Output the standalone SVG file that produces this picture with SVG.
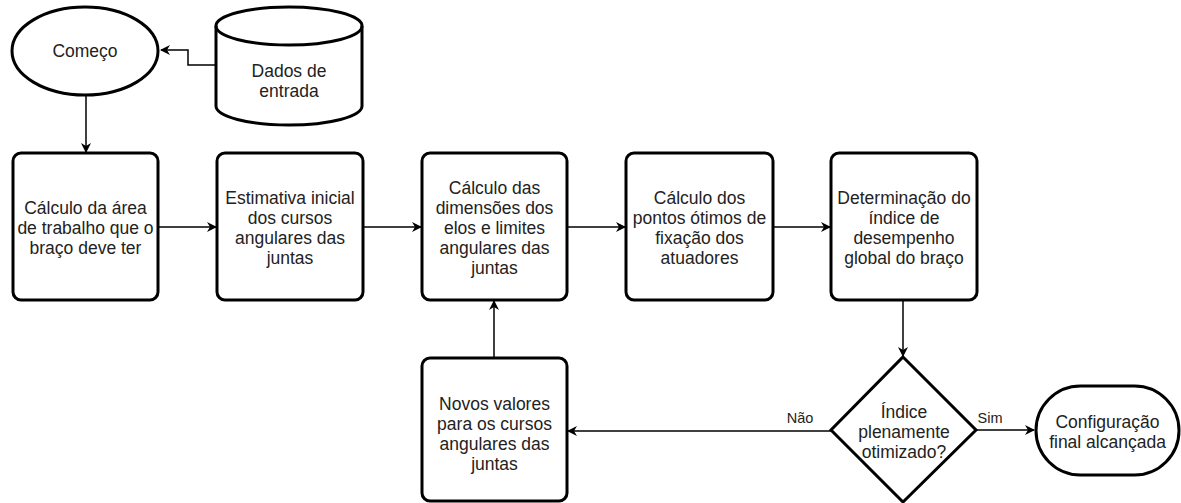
<svg xmlns="http://www.w3.org/2000/svg" width="1181" height="503" viewBox="0 0 1181 503">
<defs>
<marker id="arr" viewBox="0 0 10 10" refX="9" refY="5" markerWidth="10" markerHeight="10" markerUnits="userSpaceOnUse" orient="auto">
<path d="M0,0 L10,5 L0,10 L3,5 Z" fill="#000"/>
</marker>
</defs>
<style>
.shape{fill:#fff;stroke:#000;stroke-width:3}
.conn{fill:none;stroke:#000;stroke-width:1.5;marker-end:url(#arr)}
text{font-family:"Liberation Sans",Arial,sans-serif;font-size:17.5px;fill:#222;text-anchor:middle}
.lbl{font-size:14.5px}
</style>
<rect width="1181" height="503" fill="#fff"/>
<g id="connectors">
<path class="conn" d="M215,65 H188 V50 H161"/>
<path class="conn" d="M86,95 V152"/>
<path class="conn" d="M158,227 H216"/>
<path class="conn" d="M363,227 H421"/>
<path class="conn" d="M567,227 H625"/>
<path class="conn" d="M773,227 H830"/>
<path class="conn" d="M903,300 V356"/>
<path class="conn" d="M977,430 H1034"/>
<path class="conn" d="M831,431 H568"/>
<path class="conn" d="M494,358 V301"/>
<text class="lbl" x="990" y="423">Sim</text>
<text class="lbl" x="800" y="423">Não</text>
</g>
<g id="comeco">
<ellipse class="shape" cx="85" cy="51" rx="73" ry="44"/>
<text x="85" y="57">Começo</text>
</g>
<g id="dados">
<path class="shape" d="M216,26 A73,19 0 0 1 362,26 V106 A73,19 0 0 1 216,106 Z"/>
<path fill="none" stroke="#000" stroke-width="3" d="M216,26 A73,19 0 0 0 362,26"/>
<text x="289" y="77">Dados de</text>
<text x="289" y="97">entrada</text>
</g>
<g id="n1">
<rect class="shape" x="13" y="153" width="145" height="147" rx="8"/>
<text x="85.5" y="214">Cálculo da área</text>
<text x="85.5" y="234">de trabalho que o</text>
<text x="85.5" y="254">braço deve ter</text>
</g>
<g id="n2">
<rect class="shape" x="217" y="153" width="146" height="147" rx="8"/>
<text x="290" y="204">Estimativa inicial</text>
<text x="290" y="224">dos cursos</text>
<text x="290" y="244">angulares das</text>
<text x="290" y="264">juntas</text>
</g>
<g id="n3">
<rect class="shape" x="422" y="153" width="145" height="147" rx="8"/>
<text x="494.5" y="194">Cálculo das</text>
<text x="494.5" y="214">dimensões dos</text>
<text x="494.5" y="234">elos e limites</text>
<text x="494.5" y="254">angulares das</text>
<text x="494.5" y="274">juntas</text>
</g>
<g id="n4">
<rect class="shape" x="626" y="153" width="147" height="147" rx="8"/>
<text x="699.5" y="204">Cálculo dos</text>
<text x="699.5" y="224">pontos ótimos de</text>
<text x="699.5" y="244">fixação dos</text>
<text x="699.5" y="264">atuadores</text>
</g>
<g id="n5">
<rect class="shape" x="831" y="153" width="146" height="147" rx="8"/>
<text x="904" y="204">Determinação do</text>
<text x="904" y="224">índice de</text>
<text x="904" y="244">desempenho</text>
<text x="904" y="264">global do braço</text>
</g>
<g id="decisao">
<path class="shape" d="M903,357 L976,430 L903,502 L831,430 Z"/>
<text x="904" y="418">Índice</text>
<text x="904" y="438">plenamente</text>
<text x="904" y="458">otimizado?</text>
</g>
<g id="n6">
<rect class="shape" x="422" y="358" width="145" height="143" rx="8"/>
<text x="494.5" y="410">Novos valores</text>
<text x="494.5" y="430">para os cursos</text>
<text x="494.5" y="450">angulares das</text>
<text x="494.5" y="470">juntas</text>
</g>
<g id="fim">
<rect class="shape" x="1036" y="386" width="143" height="89" rx="44.5"/>
<text x="1107.5" y="428">Configuração</text>
<text x="1107.5" y="448">final alcançada</text>
</g>
</svg>
